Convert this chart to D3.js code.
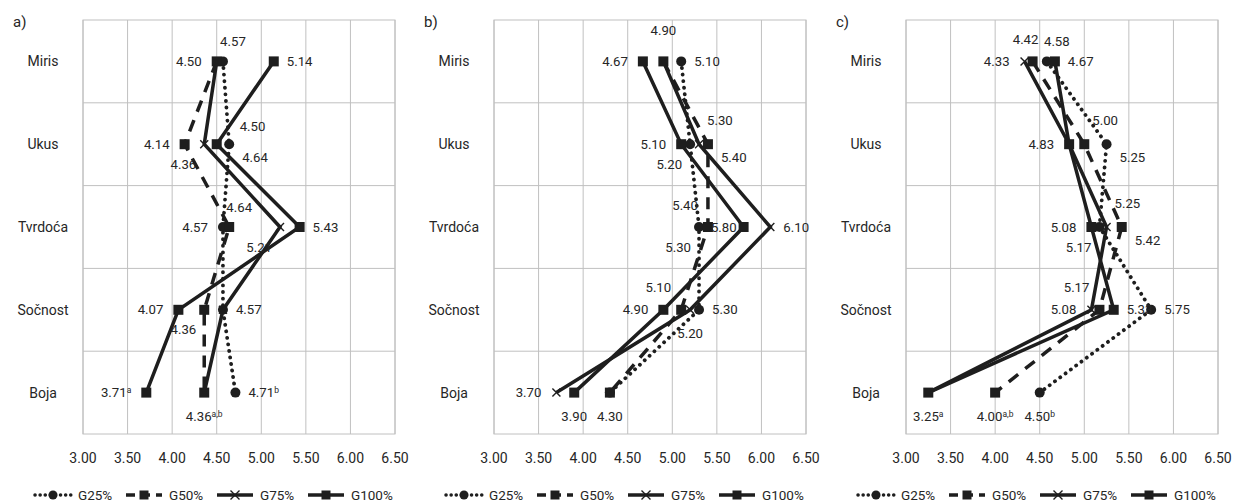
<!DOCTYPE html>
<html>
<head>
<meta charset="utf-8">
<script src="https://cdn.jsdelivr.net/npm/d3@7"></script>
<style>
  body { margin: 0; background: #fff; }
  svg { display: block; font-family: Roboto, 'Open Sans', sans-serif; }
  .grid line, .frame { stroke: #c0c0c0; stroke-width: 1; fill: none; }
  .cat-label { font-size: 14px; fill: #262626; }
  .tick-label { font-size: 14px; fill: #262626; }
  .data-label { font-size: 13.2px; fill: #262626; }
  .panel-title { font-size: 15px; fill: #262626; }
  .legend-text { font-size: 13.5px; fill: #262626; }
</style>
</head>
<body>
<div id="chart"></div>
<script>
// categories (y axis, top to bottom) and series
const categories = ['Miris', 'Ukus', 'Tvrdoća', 'Sočnost', 'Boja'];
const seriesNames = ['G25%', 'G50%', 'G75%', 'G100%'];
const xTickValues = [3.00, 3.50, 4.00, 4.50, 5.00, 5.50, 6.00, 6.50];

// panel a)
const a_G25 = [4.57, 4.64, 4.57, 4.57, 4.71];
const a_G50 = [4.50, 4.14, 4.64, 4.36, 4.36];
const a_G75 = [4.50, 4.36, 5.21, 4.57, 4.36];
const a_G100 = [5.14, 4.50, 5.43, 4.07, 3.71];

// panel b)
const b_G25 = [5.10, 5.20, 5.30, 5.30, 4.30];
const b_G50 = [4.90, 5.40, 5.40, 5.10, 4.30];
const b_G75 = [4.90, 5.30, 6.10, 5.20, 3.70];
const b_G100 = [4.67, 5.10, 5.80, 4.90, 3.90];

// panel c)
const c_G25 = [4.58, 5.25, 5.17, 5.75, 4.50];
const c_G50 = [4.42, 5.00, 5.42, 5.17, 4.00];
const c_G75 = [4.33, 4.83, 5.25, 5.08, 3.25];
const c_G100 = [4.67, 4.83, 5.08, 5.33, 3.25];

// superscripts on the Boja labels (per series)
const a_sup = ['b', 'a,b', null, 'a'];
const b_sup = [null, null, null, null];
const c_sup = ['b', 'a,b', null, 'a'];

// where each data label sits around its marker (null = label hidden)
const a_labelPos = [
  ['tR', 'br', 'l', 'r', 'r'],
  [null, 'l', 'tR', 'bl', 'b'],
  ['l', 'bl', 'bl', null, null],
  ['r', 'trw', 'r', 'l', 'l']
];
const b_labelPos = [
  ['r', 'bl', 'bl', 'r', 'b'],
  ['tt', 'br', 'tl', 'tl', null],
  [null, 'tr', 'r', 'b', 'l'],
  ['l', 'l', 'ln', 'l', 'b']
];
const c_labelPos = [
  ['tR', 'br', 'bl', 'r', 'b'],
  ['tL', 'tr', 'br', 'tl', 'b'],
  ['l', null, 'tr', 'l', null],
  ['r', 'l', 'l', 'r', 'b']
];

const labelOffsets = {
  l:   {anchor: 'end', dx: -15, dy: 0},
  ln:  {anchor: 'end', dx: -7, dy: 0},
  r:   {anchor: 'start', dx: 13, dy: 0},
  t:   {anchor: 'middle', dx: 0, dy: -22},
  tt:  {anchor: 'middle', dx: 0, dy: -31},
  tL:  {anchor: 'middle', dx: -7, dy: -22},
  tR:  {anchor: 'middle', dx: 10, dy: -20},
  b:   {anchor: 'middle', dx: 0, dy: 24},
  tl:  {anchor: 'end', dx: -10, dy: -22},
  tr:  {anchor: 'start', dx: 8, dy: -24},
  trw: {anchor: 'start', dx: 23, dy: -18},
  bl:  {anchor: 'end', dx: -8, dy: 20},
  br:  {anchor: 'start', dx: 13, dy: 13}
};

const seriesStyle = [
  {dash: '0.1,6.5', cap: 'round', marker: 'circle'},
  {dash: '12,9', cap: 'butt', marker: 'square'},
  {dash: null, cap: 'butt', marker: 'x'},
  {dash: null, cap: 'butt', marker: 'square'}
];

const ink = '#1e1e1e';

class ProfilePanel {

  constructor(_config, _data) {
    this.config = {
      svg: _config.svg,
      left: _config.left,
      title: _config.title,
      top: 20,
      width: 312,
      height: 414,
      legendY: 495
    };
    this.data = _data;
    this.initVis();
  }

  initVis() {
    let vis = this;

    vis.g = vis.config.svg.append('g')
        .attr('transform', `translate(${vis.config.left},${vis.config.top})`);

    vis.xScale = d3.scaleLinear()
        .domain([3, 6.5])
        .range([0, vis.config.width]);

    vis.yScale = d3.scaleBand()
        .domain(categories)
        .range([0, vis.config.height]);

    // grid
    const grid = vis.g.append('g').attr('class', 'grid');
    grid.selectAll('.vline')
        .data(xTickValues)
      .join('line')
        .attr('x1', d => vis.xScale(d)).attr('x2', d => vis.xScale(d))
        .attr('y1', 0).attr('y2', vis.config.height);
    grid.selectAll('.hline')
        .data(categories.slice(1))
      .join('line')
        .attr('x1', 0).attr('x2', vis.config.width)
        .attr('y1', d => vis.yScale(d)).attr('y2', d => vis.yScale(d));
    vis.g.append('rect')
        .attr('class', 'frame')
        .attr('width', vis.config.width)
        .attr('height', vis.config.height);

    // category labels
    vis.g.selectAll('.cat-label')
        .data(categories)
      .join('text')
        .attr('class', 'cat-label')
        .attr('text-anchor', 'middle')
        .attr('x', -40)
        .attr('y', d => vis.yScale(d) + vis.yScale.bandwidth() / 2)
        .attr('dy', '0.35em')
        .text(d => d);

    // x tick labels
    vis.g.selectAll('.tick-label')
        .data(xTickValues)
      .join('text')
        .attr('class', 'tick-label')
        .attr('text-anchor', 'middle')
        .attr('x', d => vis.xScale(d))
        .attr('y', vis.config.height + 24)
        .attr('dy', '0.35em')
        .text(d => d3.format('.2f')(d));

    vis.g.append('text')
        .attr('class', 'panel-title')
        .attr('x', -70)
        .attr('y', 2)
        .attr('dy', '0.35em')
        .text(vis.config.title);

    vis.updateVis();
    vis.drawLegend();
  }

  drawMarker(sel, type, size) {
    if (type === 'circle') {
      sel.append('circle').attr('r', size / 2).attr('fill', ink);
    } else if (type === 'square') {
      sel.append('rect')
          .attr('x', -size / 2).attr('y', -size / 2)
          .attr('width', size).attr('height', size)
          .attr('fill', ink);
    } else {
      const h = size / 2;
      sel.append('path')
          .attr('d', `M${-h},${-h}L${h},${h}M${-h},${h}L${h},${-h}`)
          .attr('stroke', ink).attr('stroke-width', 1.4).attr('fill', 'none');
    }
  }

  updateVis() {
    let vis = this;
    const cy = d => vis.yScale(d) + vis.yScale.bandwidth() / 2;

    const line = d3.line()
        .x(d => vis.xScale(d.value))
        .y(d => cy(d.cat));

    vis.data.values.forEach((vals, si) => {
      const pts = vals.map((v, i) => ({value: v, cat: categories[i]}));
      const st = seriesStyle[si];
      vis.g.append('path')
          .datum(pts)
          .attr('d', line)
          .attr('fill', 'none')
          .attr('stroke', ink)
          .attr('stroke-width', st.marker === 'circle' ? 3.8 : 3.5)
          .attr('stroke-linecap', st.cap)
          .attr('stroke-linejoin', 'miter')
          .attr('stroke-dasharray', st.dash);

      const marks = vis.g.append('g').selectAll('g')
          .data(pts)
        .join('g')
          .attr('transform', d => `translate(${vis.xScale(d.value)},${cy(d.cat)})`);
      marks.each(function() {
        vis.drawMarker(d3.select(this), st.marker, st.marker === 'x' ? 8 : 10);
      });
    });

    // data labels
    vis.data.values.forEach((vals, si) => {
      vals.forEach((v, i) => {
        const pos = vis.data.labelPos[si][i];
        if (!pos) return;
        const o = labelOffsets[pos];
        const t = vis.g.append('text')
            .attr('class', 'data-label')
            .attr('text-anchor', o.anchor)
            .attr('x', vis.xScale(v) + o.dx)
            .attr('y', cy(categories[i]) + o.dy)
            .attr('dy', '0.35em')
            .text(d3.format('.2f')(v));
        const sup = vis.data.sup[si];
        if (sup && i === categories.length - 1) {
          t.append('tspan')
              .attr('dy', '-0.45em')
              .attr('font-size', '8.5px')
              .text(sup);
        }
      });
    });
  }

  drawLegend() {
    let vis = this;
    const legend = vis.g.append('g')
        .attr('transform', `translate(-48,${vis.config.legendY - vis.config.top})`);

    const items = legend.selectAll('g')
        .data(seriesNames)
      .join('g')
        .attr('transform', (d, i) => `translate(${i * 91},0)`);

    items.each(function(d, i) {
      const it = d3.select(this);
      const st = seriesStyle[i];
      it.append('line')
          .attr('x1', 0).attr('x2', 36)
          .attr('stroke', ink)
          .attr('stroke-width', 3.5)
          .attr('stroke-linecap', st.cap)
          .attr('stroke-dasharray', st.dash ? (i === 0 ? '0.1,5' : '9,6') : null);
      const m = it.append('g').attr('transform', 'translate(18,0)');
      vis.drawMarker(m, st.marker, 9);
      it.append('text')
          .attr('class', 'legend-text')
          .attr('x', 43)
          .attr('dy', '0.35em')
          .text(d);
    });
  }
}

const svg = d3.select('#chart').append('svg')
    .attr('width', 1235)
    .attr('height', 504);

new ProfilePanel({svg: svg, left: 83, title: 'a)'},
    {values: [a_G25, a_G50, a_G75, a_G100], labelPos: a_labelPos, sup: a_sup});
new ProfilePanel({svg: svg, left: 494, title: 'b)'},
    {values: [b_G25, b_G50, b_G75, b_G100], labelPos: b_labelPos, sup: b_sup});
new ProfilePanel({svg: svg, left: 906, title: 'c)'},
    {values: [c_G25, c_G50, c_G75, c_G100], labelPos: c_labelPos, sup: c_sup});
</script>
</body>
</html>
